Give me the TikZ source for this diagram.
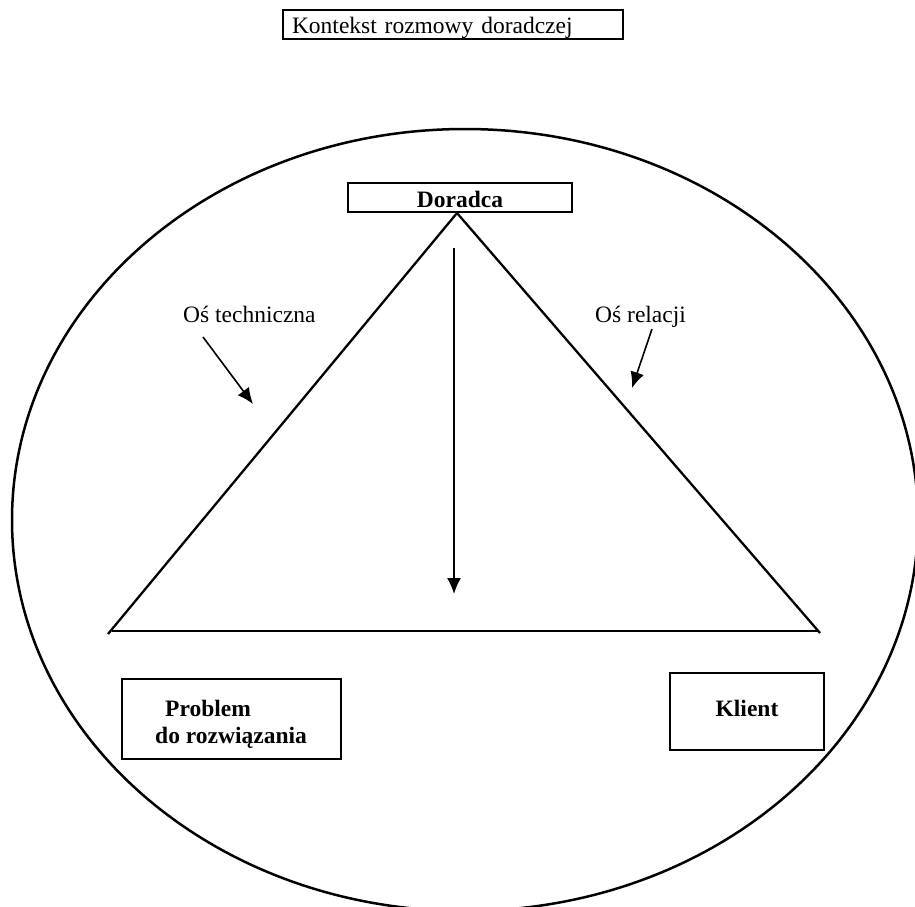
\documentclass[tikz,border=0pt]{standalone}
\usepackage{fontspec}
\setmainfont{Liberation Serif}
\usetikzlibrary{arrows.meta}
\begin{document}
\begin{tikzpicture}[x=1pt,y=-1pt,
  every node/.style={font=\fontsize{23.5}{27}\selectfont, inner sep=0pt},
  boxnode/.style={draw, line width=1.9pt, rectangle},
  lbl/.style={anchor=base west},
  thin arrow/.style={line width=1.6pt, -{Latex[length=16pt,width=14pt]}},
  side/.style={line width=2.3pt}]
\useasboundingbox (0,0) rectangle (915,906);
% context ellipse
\draw[line width=2.5pt] (465,520) ellipse [x radius=453, y radius=391];
% top box
\node[boxnode, line width=2.4pt, minimum width=340pt, minimum height=29pt, text width=322pt, inner xsep=9pt, align=left, text height=17pt, text depth=0pt] (ctx) at (453,24.5) {Kontekst rozmowy doradczej};
% Doradca
\node[boxnode, minimum width=224pt, minimum height=29pt, text height=19pt, text depth=0pt] (dor) at (460,197.5) {\bfseries Doradca};
% coordinates of triangle
\coordinate (apex) at (457,213);
\coordinate (lc) at (108,634);
\coordinate (rc) at (820,633);
\coordinate (bl) at (112,631);
\coordinate (br) at (818,631);
\draw[side] (lc) -- (apex) -- (rc);
\draw[side] (bl) -- (br);
% vertical arrow
\coordinate (va) at (454,248);
\coordinate (vb) at (454,594);
\draw[thin arrow] (va) -- (vb);
% axis labels
\node[lbl] (tech) at (183,322) {Oś techniczna};
\node[lbl] (rel) at (595,322) {Oś relacji};
\coordinate (ta) at (203,337);
\coordinate (tb) at (253,404);
\draw[thin arrow] (ta) -- (tb);
\coordinate (ra) at (652,329);
\coordinate (rb) at (632,388);
\draw[thin arrow] (ra) -- (rb);
% Problem box
\node[boxnode, minimum width=219pt, minimum height=80pt] (prob) at (231.5,719) {};
\node[lbl] (probA) at (165,716) {\bfseries Problem};
\node[lbl] (probB) at (155,743) {\bfseries do rozwiązania};
% Klient box
\node[boxnode, minimum width=154pt, minimum height=77pt, text height=9pt, text depth=0pt] (kl) at (747,711.5) {\bfseries Klient};
\end{tikzpicture}
\end{document}
